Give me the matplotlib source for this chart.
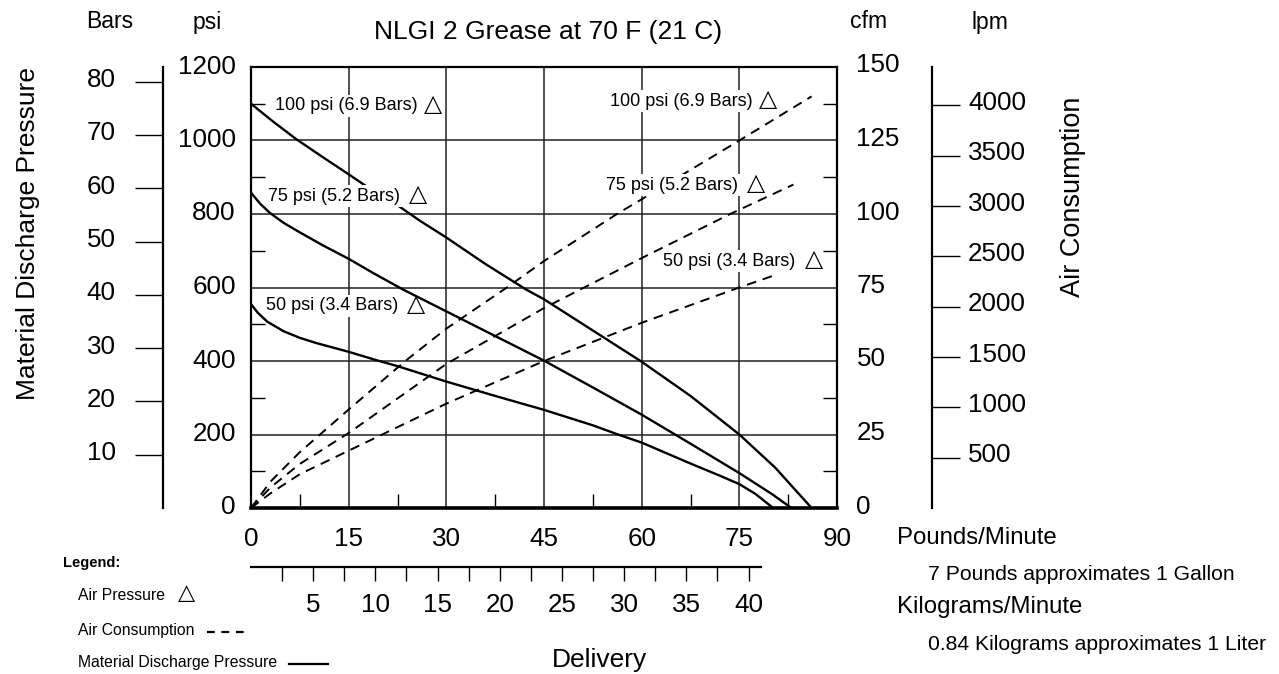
import numpy as np
import matplotlib
matplotlib.use("Agg")
import matplotlib.pyplot as plt
from matplotlib.lines import Line2D
from matplotlib.transforms import ScaledTranslation

plt.rcParams['font.family'] = ['Liberation Sans', 'DejaVu Sans']

W, H = 1279, 674

# delivery scales
lb_ticks = [0, 15, 30, 45, 60, 75, 90]
kg_ticks = [5, 10, 15, 20, 25, 30, 35, 40]
psi_ticks = [0, 200, 400, 600, 800, 1000, 1200]
bar_ticks = [10, 20, 30, 40, 50, 60, 70, 80]
cfm_ticks = [0, 25, 50, 75, 100, 125, 150]
lpm_ticks = [500, 1000, 1500, 2000, 2500, 3000, 3500, 4000]

# material discharge pressure (psi) vs pounds/minute
mdp_100_x = [0, 3.5, 7, 11, 15, 18.5, 22.4, 26, 30, 36, 42.3, 45, 52.5, 60, 67.5, 75, 80.5, 86.1]
mdp_100_y = [1100, 1050, 1003, 955, 908, 866, 825, 781, 736, 664, 594, 568, 483, 398, 305, 200, 110, 0]
mdp_75_x = [0, 1.4, 2.9, 5, 7.5, 11, 15, 19, 23.4, 30, 37.5, 45, 52.5, 60, 67.5, 75, 80, 83]
mdp_75_y = [858, 828, 803, 776, 750, 715, 678, 637, 594, 535, 468, 401, 328, 254, 175, 95, 38, 0]
mdp_50_x = [0, 1, 2.5, 5, 7.5, 10, 15, 19.3, 22.5, 30, 37.5, 45, 52.5, 56.2, 60, 67.5, 72, 75, 77.5, 80.2]
mdp_50_y = [555, 532, 507, 481, 463, 449, 425, 402, 386, 344, 305, 267, 225, 201, 178, 121, 88, 65, 38, 0]

# air consumption (cfm) vs pounds/minute
air_100_x = [0, 3, 7.5, 15, 23.7, 30, 39.3, 45, 56.2, 60, 75, 86.1]
air_100_y = [0, 9, 19, 33.5, 50, 61, 75, 84, 100, 105, 125, 140]
air_75_x = [0, 3, 7.5, 15, 30, 45, 60, 73.6, 83.3]
air_75_y = [0, 7, 15, 25.5, 49, 68, 85, 100, 110]
air_50_x = [0, 3, 7.5, 15, 30, 45, 60, 75, 80.2]
air_50_y = [0, 5, 11.5, 19.5, 35.5, 50, 63, 75, 79]

mdp_labels = ["100 psi (6.9 Bars)", "75 psi (5.2 Bars)", "50 psi (3.4 Bars)"]


def fx(px):
    return px / W


def fy(py):
    return 1 - py / H


fig = plt.figure(figsize=(W / 100, H / 100), dpi=100)
TICKFS = 18.7

# main axes
ax = fig.add_axes([fx(251), fy(508), (837 - 251) / W, (508 - 67) / H])
ax.set_xlim(0, 90)
ax.set_ylim(0, 1200)
ax.set_xticks(lb_ticks)
ax.set_yticks(psi_ticks)
ax.set_xticks(np.arange(7.5, 90, 15), minor=True)
ax.set_yticks(np.arange(100, 1200, 200), minor=True)
ax.tick_params(which='major', length=0, labelsize=TICKFS)
ax.tick_params(axis='x', which='major', pad=14)
ax.tick_params(axis='y', which='major', pad=11)
ax.tick_params(which='minor', direction='in', length=10, width=1)
ax.grid(True, which='major', color='#222222', lw=1.1)
for s in ['left', 'right', 'top']:
    ax.spines[s].set_linewidth(1.6)
ax.spines['bottom'].set_linewidth(2.6)

for xs, ys in [(mdp_100_x, mdp_100_y), (mdp_75_x, mdp_75_y), (mdp_50_x, mdp_50_y)]:
    ax.plot(xs, ys, color='black', lw=1.7, zorder=3)

# cfm twin
ax2 = ax.twinx()
ax2.set_ylim(0, 150)
ax2.set_yticks(cfm_ticks)
ax2.set_yticks(np.arange(12.5, 150, 25), minor=True)
ax2.tick_params(which='major', length=0, labelsize=TICKFS, pad=14)
ax2.tick_params(which='minor', direction='in', length=10, width=1)
for s in ax2.spines.values():
    s.set_visible(False)
for xs, ys in [(air_100_x, air_100_y), (air_75_x, air_75_y), (air_50_x, air_50_y)]:
    ax2.plot(xs, ys, color='black', lw=1.4, dashes=(5, 3.5), zorder=3)

lbl_kw = dict(fontsize=13, va='center', ha='left', zorder=5,
              bbox=dict(facecolor='white', edgecolor='none', pad=1.5))
tri_kw = dict(fontsize=17, va='center', ha='center', zorder=6, family='DejaVu Sans')
# curve labels (figure pixel positions): text left, triangle centre
left_pos = [(275, 106, 433), (268, 196, 418), (266, 306, 416)]
right_pos = [(610, 101, 768), (606, 185, 756), (663, 261, 814)]
for txt, (px, py, tx) in zip(mdp_labels + mdp_labels, left_pos + right_pos):
    fig.text(fx(px), fy(py), txt, **lbl_kw)
    fig.text(fx(tx), fy(py - 2), "\u25B3", **tri_kw)

# bars axis
axb = fig.add_axes([fx(163), fy(508), 0.0001, (508 - 67) / H])
axb.set_ylim(0, 1200 / 14.5)
axb.set_xticks([])
axb.set_yticks(bar_ticks)
axb.tick_params(axis='y', direction='out', length=20, width=1, labelsize=TICKFS, pad=14)
for s in ['right', 'top', 'bottom']:
    axb.spines[s].set_visible(False)
axb.spines['left'].set_linewidth(1.6)
axb.patch.set_visible(False)

# lpm axis
axl = fig.add_axes([fx(932), fy(508), 0.0001, (508 - 67) / H])
axl.set_ylim(0, 4382)
axl.set_xticks([])
axl.yaxis.tick_right()
axl.set_yticks(lpm_ticks)
axl.tick_params(axis='y', direction='out', length=20, width=1, labelsize=TICKFS, pad=6)
for s in ['left', 'top', 'bottom']:
    axl.spines[s].set_visible(False)
axl.spines['right'].set_linewidth(1.6)
axl.patch.set_visible(False)

# kilograms/minute axis
axk = fig.add_axes([fx(251), fy(567), (761 - 251) / W, 0.0001])
axk.set_xlim(0, 41)
axk.set_yticks([])
axk.set_xticks(kg_ticks)
axk.set_xticks(np.arange(2.5, 41, 5), minor=True)
axk.tick_params(axis='x', which='both', direction='out', length=10, width=1)
axk.tick_params(axis='x', which='major', labelsize=TICKFS, pad=9)
for s in ['left', 'right', 'top']:
    axk.spines[s].set_visible(False)
axk.spines['bottom'].set_linewidth(1.6)
axk.patch.set_visible(False)

# y tick labels sit a little above their ticks in the original
for a, dy in [(ax, 3), (ax2, 4), (axb, 4), (axl, 5)]:
    for lab in a.get_yticklabels():
        lab.set_transform(lab.get_transform() +
                          ScaledTranslation(0, dy / 100, fig.dpi_scale_trans))

# headers and axis titles
fig.text(fx(110), fy(22), "Bars", fontsize=16.5, ha='center', va='center')
fig.text(fx(207), fy(22), "psi", fontsize=16.5, ha='center', va='center')
fig.text(fx(548), fy(32), "NLGI 2 Grease at 70 F (21 C)", fontsize=19, ha='center', va='center')
fig.text(fx(869), fy(22), "cfm", fontsize=16.5, ha='center', va='center')
fig.text(fx(990), fy(22), "lpm", fontsize=16.5, ha='center', va='center')
fig.text(fx(28), fy(234), "Material Discharge Pressure", fontsize=19, rotation=90,
         ha='center', va='center')
fig.text(fx(1073), fy(197), "Air Consumption", fontsize=19.5, rotation=90,
         ha='center', va='center')
fig.text(fx(600), fy(660), "Delivery", fontsize=19, ha='center', va='center')

fig.text(fx(897), fy(538), "Pounds/Minute", fontsize=17.3, ha='left', va='center')
fig.text(fx(928), fy(575), "7 Pounds approximates 1 Gallon", fontsize=15.2, ha='left', va='center')
fig.text(fx(897), fy(607), "Kilograms/Minute", fontsize=17.3, ha='left', va='center')
fig.text(fx(928), fy(645), "0.84 Kilograms approximates 1 Liter", fontsize=15.2, ha='left', va='center')

# legend
fig.text(fx(63), fy(563), "Legend:", fontsize=10.5, fontweight='bold', ha='left', va='center')
fig.text(fx(78), fy(595), "Air Pressure", fontsize=11.3, ha='left', va='center')
fig.text(fx(186), fy(593), "\u25B3", fontsize=16, ha='center', va='center', family='DejaVu Sans')
fig.text(fx(78), fy(630), "Air Consumption", fontsize=11.3, ha='left', va='center')
fig.text(fx(78), fy(662), "Material Discharge Pressure", fontsize=11.3, ha='left', va='center')
fig.add_artist(Line2D([fx(207), fx(247)], [fy(632), fy(632)], color='black', lw=1.6,
                      dashes=(3.5, 3)))
fig.add_artist(Line2D([fx(289), fx(328)], [fy(664), fy(664)], color='black', lw=1.6))

fig.savefig("out.png", dpi=100)
